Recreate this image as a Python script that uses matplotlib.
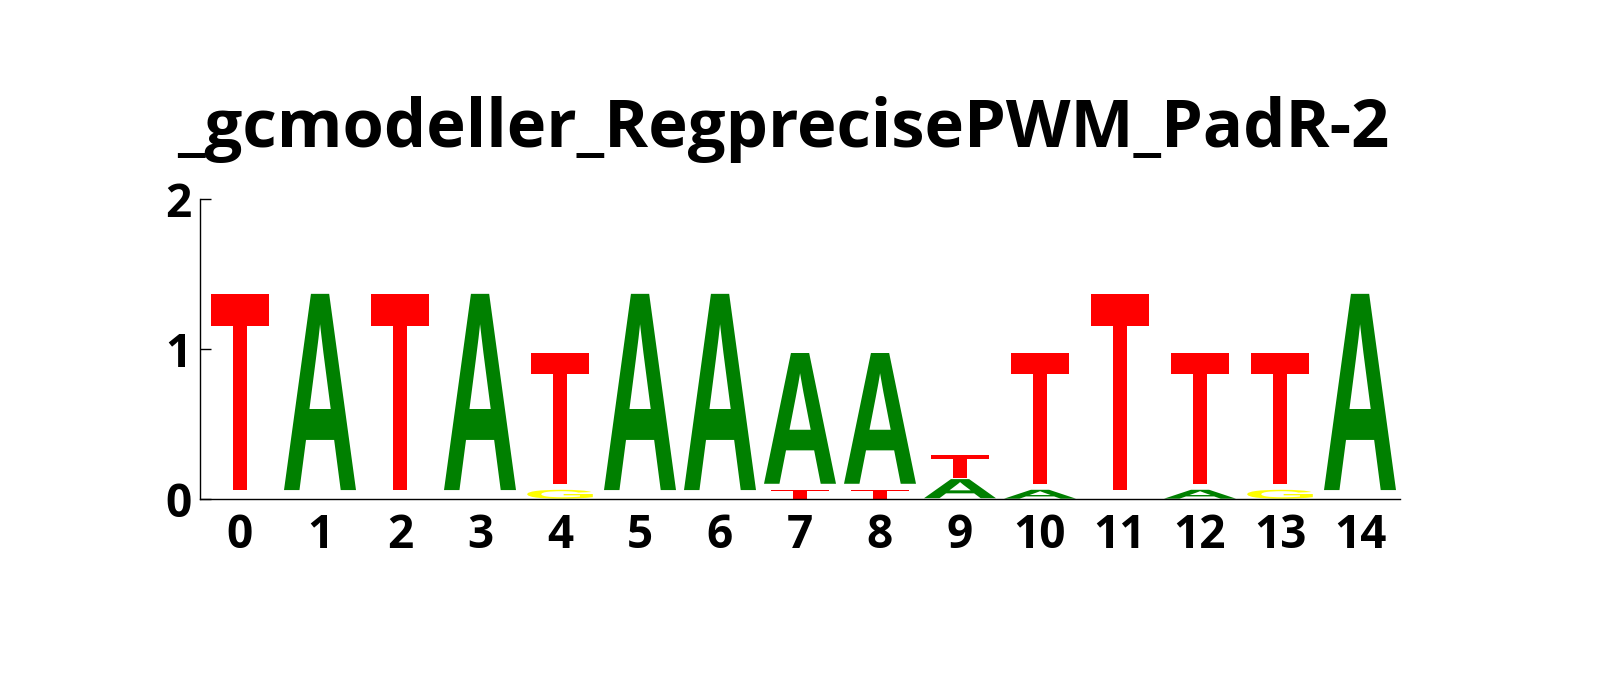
import matplotlib
matplotlib.use("Agg")
import matplotlib.pyplot as plt
from matplotlib.textpath import TextPath
from matplotlib.patches import PathPatch
from matplotlib.font_manager import FontProperties
from matplotlib.transforms import Affine2D

title = "_gcmodeller_RegprecisePWM_PadR-2"
positions = list(range(15))
# letter heights (bits) per position
A = [0, 1.367, 0, 1.367, 0, 1.367, 1.367, 0.911, 0.911, 0.133, 0.062, 0, 0.062, 0, 1.367]
C = [0] * 15
G = [0, 0, 0, 0, 0.062, 0, 0, 0, 0, 0, 0, 0, 0, 0.062, 0]
T = [1.367, 0, 1.367, 0, 0.911, 0, 0, 0.062, 0.062, 0.160, 0.911, 1.367, 0.911, 0.911, 0]
yticks = [0, 1, 2]

colors = {"A": "#008000", "C": "#0000FF", "G": "#FFFF00", "T": "#FF0000"}
widths = {"A": 0.9, "C": 0.82, "G": 0.82, "T": 0.73}

fig = plt.figure(figsize=(16, 7), dpi=100)
ax = fig.add_axes([0.125, 0.287, 0.75, 0.429])

fp = FontProperties(family="Liberation Sans", weight="bold")
label_font = ["Open Sans", "DejaVu Sans"]

def draw_letter(ax, ch, xc, y0, h):
    if h <= 0:
        return
    tp = TextPath((0, 0), ch, size=1, prop=fp)
    ext = tp.get_extents()
    w = widths[ch]
    pad = 0.044 * h
    gh = h - pad
    tr = (Affine2D().translate(-ext.x0, -ext.y0)
          .scale(w / ext.width, gh / ext.height)
          .translate(xc - w / 2, y0 + pad))
    path = tr.transform_path(tp)
    ax.add_patch(PathPatch(path, facecolor=colors[ch], edgecolor="none", lw=0))

for i, p in enumerate(positions):
    stack = [("A", A[i]), ("C", C[i]), ("G", G[i]), ("T", T[i])]
    stack = sorted([s for s in stack if s[1] > 0], key=lambda s: s[1])
    y = 0.0
    for ch, h in stack:
        draw_letter(ax, ch, p, y, h)
        y += h

ax.set_xlim(-0.5, 14.5)
ax.set_ylim(0, 2)
ax.spines["top"].set_visible(False)
ax.spines["right"].set_visible(False)
ax.spines["left"].set_linewidth(1.0)
ax.spines["bottom"].set_linewidth(1.0)
ax.set_xticks(positions)
ax.set_xticklabels([str(p) for p in positions])
ax.set_yticks(yticks)
ax.set_yticklabels([str(v) for v in yticks])
ax.tick_params(axis="x", length=0, pad=9)
ax.tick_params(axis="y", direction="in", length=8, width=1, pad=6)
for lab in ax.get_xticklabels() + ax.get_yticklabels():
    lab.set_family(label_font)
    lab.set_fontweight("bold")
    lab.set_fontsize(33)

fig.text(0.4895, 0.79, title, ha="center", va="baseline", fontsize=48.2,
         fontweight="bold", family=label_font)

fig.savefig("out.png", dpi=100)
